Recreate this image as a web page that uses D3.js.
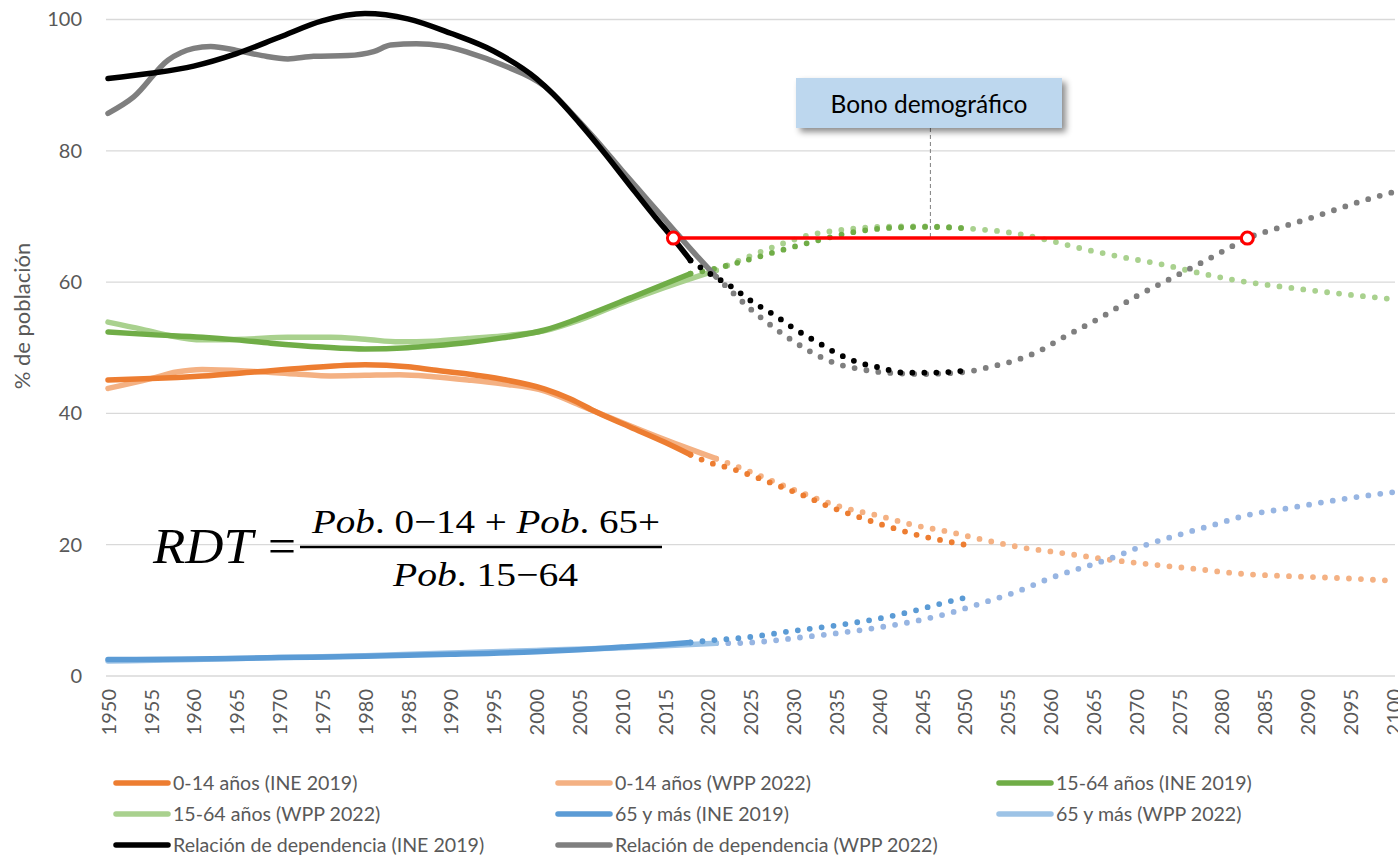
<!DOCTYPE html>
<html>
<head>
<meta charset="utf-8">
<script src="https://cdn.jsdelivr.net/npm/d3@7"></script>
<style>
  html, body { margin: 0; padding: 0; background: #fff; }
  svg { display: block; }
  .sans { font-family: Lato, "Open Sans", sans-serif; }
  .serif { font-family: "Liberation Serif", "DejaVu Serif", serif; }
</style>
</head>
<body>
<svg id="chart" width="1398" height="857"></svg>
<script>
// ---------- data ----------
const xTickYears = [1950,1955,1960,1965,1970,1975,1980,1985,1990,1995,2000,2005,2010,2015,2020,2025,2030,2035,2040,2045,2050,2055,2060,2065,2070,2075,2080,2085,2090,2095,2100];
const yTicks = [0, 20, 40, 60, 80, 100];

const ine014 = [[1950,45.1],[1955,45.3],[1961,45.7],[1967,46.3],[1973,46.9],[1980,47.4],[1985,47.1],[1988,46.6],[1992,46.0],[1996,45.2],[2001,43.7],[2004,42.2],[2007,40.2],[2011,37.9],[2015,35.6],[2018,33.7],[2020,32.6],[2023,31.5],[2026,30.1],[2029,28.6],[2031,27.6],[2034,25.9],[2037,24.5],[2040,23.2],[2042,22.4],[2045,21.3],[2048,20.5],[2050,20.0]];
const wpp014 = [[1950,43.8],[1955,45.3],[1958,46.3],[1961,46.7],[1967,46.4],[1972,46.0],[1976,45.7],[1980,45.8],[1984,45.9],[1988,45.6],[1992,45.1],[1996,44.5],[2001,43.4],[2005,41.3],[2010,38.6],[2015,36.0],[2021,33.1],[2025,31.1],[2030,28.4],[2036,25.6],[2040,24.4],[2044,23.0],[2048,22.0],[2052,20.8],[2057,19.5],[2061,18.8],[2067,17.7],[2071,17.1],[2077,16.3],[2082,15.6],[2088,15.2],[2094,14.9],[2100,14.5]];
const ine1564 = [[1950,52.4],[1955,52.0],[1961,51.6],[1965,51.2],[1969,50.7],[1975,50.1],[1980,49.8],[1985,50.0],[1988,50.3],[1992,50.8],[1996,51.5],[2001,52.7],[2004,54.0],[2006,55.0],[2011,57.6],[2015,59.7],[2018,61.3],[2021,62.1],[2025,63.5],[2029,65.0],[2033,66.4],[2037,67.6],[2042,68.3],[2046,68.4],[2050,68.2]];
const wpp1564 = [[1950,53.9],[1954,52.8],[1957,51.9],[1961,51.2],[1966,51.3],[1971,51.6],[1976,51.6],[1980,51.3],[1984,50.9],[1988,51.0],[1992,51.4],[1996,51.8],[2001,52.6],[2005,54.2],[2010,56.8],[2015,59.2],[2021,61.8],[2025,64.0],[2028,65.5],[2032,67.2],[2036,68.0],[2040,68.4],[2045,68.5],[2050,68.2],[2056,67.4],[2060,66.3],[2064,65.0],[2068,63.9],[2073,62.7],[2077,61.5],[2082,60.2],[2087,59.3],[2092,58.5],[2100,57.4]];
const ine65 = [[1950,2.5],[1960,2.6],[1970,2.8],[1980,3.0],[1990,3.3],[2000,3.7],[2005,4.0],[2010,4.4],[2015,4.8],[2018,5.1],[2021,5.5],[2024,5.8],[2027,6.3],[2029,6.7],[2032,7.2],[2035,7.7],[2038,8.3],[2041,9.0],[2044,9.9],[2046,10.6],[2049,11.6],[2050,11.9]];
const wpp65 = [[1950,2.3],[1960,2.5],[1970,2.8],[1980,3.1],[1990,3.5],[2000,3.9],[2010,4.3],[2015,4.6],[2021,5.0],[2023,5.0],[2027,5.3],[2031,5.9],[2035,6.5],[2040,7.4],[2044,8.3],[2048,9.5],[2052,11.1],[2056,12.8],[2060,14.9],[2067,17.9],[2071,19.9],[2075,21.5],[2079,23.0],[2083,24.5],[2088,25.6],[2092,26.5],[2096,27.3],[2100,28.0]];
const ineRdt = [[1950,91.0],[1955,91.8],[1960,92.9],[1965,94.8],[1970,97.3],[1975,99.8],[1980,100.9],[1985,100.1],[1990,97.9],[1995,95.2],[2000,91.0],[2002,88.6],[2005,84.3],[2008,79.6],[2011,74.6],[2014,69.7],[2016,66.6],[2018,63.3],[2020,61.5],[2023,59.1],[2025,57.2],[2028,54.8],[2030,53.0],[2033,50.7],[2035,49.2],[2038,47.6],[2040,47.0],[2043,46.2],[2046,46.2],[2050,46.5]];
const wppRdt = [[1950,85.7],[1953,88.2],[1957,93.8],[1960,95.6],[1962,95.9],[1965,95.3],[1968,94.5],[1971,94.0],[1974,94.4],[1978,94.5],[1981,95.1],[1983,96.1],[1986,96.3],[1989,96.0],[1992,95.0],[1996,93.1],[2001,89.8],[2004,85.9],[2007,81.6],[2010,77.0],[2013,72.5],[2016,68.0],[2019,63.6],[2021,60.8],[2023,58.3],[2025,55.9],[2027,53.8],[2030,51.0],[2032,49.4],[2035,47.6],[2038,46.7],[2040,46.3],[2045,46.0],[2050,46.3],[2053,47.1],[2056,48.1],[2059,49.7],[2061,51.2],[2066,54.7],[2070,57.8],[2074,60.5],[2078,63.2],[2081,65.3],[2083,66.7],[2086,68.0],[2090,69.6],[2093,70.9],[2096,72.2],[2100,73.7]];

const seriesNames = ["0-14 años (INE 2019)","0-14 años (WPP 2022)","15-64 años (INE 2019)","15-64 años (WPP 2022)","65 y más (INE 2019)","65 y más (WPP 2022)","Relación de dependencia (INE 2019)","Relación de dependencia (WPP 2022)"];
const seriesData = [ine014, wpp014, ine1564, wpp1564, ine65, wpp65, ineRdt, wppRdt];
const seriesLastObserved = [2018, 2021, 2018, 2021, 2018, 2021, 2018, 2021];
const seriesColors = ["#ED7D31","#F4B183","#70AD47","#A9D18E","#5B9BD5","#9DC3E6","#000000","#7F7F7F"];
const seriesDotColors = ["#ED7D31","#F4B183","#70AD47","#A9D18E","#5B9BD5","#97B5E2","#000000","#7F7F7F"];
// draw order (back to front)
const drawOrder = [1, 0, 3, 2, 5, 4, 7, 6];

const bonusStart = 2016, bonusEnd = 2083, bonusLevel = 66.7;
const annotationText = "Bono demográfico";
const axisTitle = "% de población";

// ---------- scales ----------
const svg = d3.select("#chart");
const x = d3.scaleLinear().domain([1950, 2100]).range([108, 1393]);
const y = d3.scaleLinear().domain([0, 100]).range([676, 19.5]);
const gridLeft = 106, gridRight = 1395;

// gridlines
svg.append("g").selectAll("line").data(yTicks).join("line")
  .attr("x1", gridLeft).attr("x2", gridRight)
  .attr("y1", d => y(d)).attr("y2", d => y(d))
  .attr("stroke", "#D9D9D9").attr("stroke-width", 1.3);

// y axis
const yAxis = svg.append("g").attr("transform", `translate(${gridLeft},0)`)
  .call(d3.axisLeft(y).tickValues(yTicks).tickSize(0).tickPadding(24));
yAxis.select(".domain").remove();
yAxis.selectAll("text").attr("class", "sans").attr("fill", "#595959").style("font-size", "20px");

// x axis
const xAxis = svg.append("g").attr("transform", `translate(0,${y(0)})`)
  .call(d3.axisBottom(x).tickValues(xTickYears).tickSize(0).tickFormat(d3.format("d")));
xAxis.select(".domain").remove();
xAxis.selectAll("text")
  .attr("class", "sans")
  .attr("fill", "#595959").style("font-size", "20px")
  .attr("transform", "rotate(-90)")
  .attr("x", -13).attr("y", 0).attr("dy", "0.36em")
  .style("text-anchor", "end");

// y title
svg.append("text").attr("class", "sans")
  .attr("transform", `translate(30,316) rotate(-90)`)
  .attr("text-anchor", "middle")
  .attr("fill", "#595959").style("font-size", "22px")
  .text(axisTitle);

// ---------- lines ----------
const line = d3.line().x(d => x(d[0])).y(d => y(d[1])).curve(d3.curveMonotoneX);
const gLines = svg.append("g");
drawOrder.forEach(i => {
  const data = seriesData[i], cut = seriesLastObserved[i];
  const solid = data.filter(d => d[0] <= cut);
  const dotted = data.filter(d => d[0] >= cut);
  gLines.append("path").attr("d", line(dotted))
    .attr("fill", "none").attr("stroke", seriesDotColors[i])
    .attr("stroke-width", 5.8).attr("stroke-linecap", "round")
    .attr("stroke-dasharray", "0 12");
  gLines.append("path").attr("d", line(solid))
    .attr("fill", "none").attr("stroke", seriesColors[i])
    .attr("stroke-width", 5.5).attr("stroke-linecap", "round").attr("stroke-linejoin", "round");
});

// ---------- bono demográfico ----------
const defs = svg.append("defs");
const f = defs.append("filter").attr("id", "shadow").attr("x", "-20%").attr("y", "-30%").attr("width", "140%").attr("height", "180%");
f.append("feDropShadow").attr("dx", 4).attr("dy", 4).attr("stdDeviation", 3).attr("flood-color", "#000").attr("flood-opacity", 0.45);

const boxMid = x(2046);
svg.append("line")
  .attr("x1", boxMid).attr("x2", boxMid).attr("y1", 128).attr("y2", y(bonusLevel))
  .attr("stroke", "#7F7F7F").attr("stroke-width", 1).attr("stroke-dasharray", "4 3");

svg.append("line")
  .attr("x1", x(bonusStart)).attr("x2", x(bonusEnd))
  .attr("y1", y(bonusLevel)).attr("y2", y(bonusLevel))
  .attr("stroke", "#FF0000").attr("stroke-width", 3.5);
svg.append("g").selectAll("circle").data([bonusStart, bonusEnd]).join("circle")
  .attr("cx", d => x(d)).attr("cy", y(bonusLevel)).attr("r", 6)
  .attr("fill", "#fff").attr("stroke", "#FF0000").attr("stroke-width", 3);

svg.append("rect")
  .attr("x", 796).attr("y", 78).attr("width", 266).attr("height", 50)
  .attr("fill", "#BDD7EE").attr("filter", "url(#shadow)");
svg.append("text").attr("class", "sans")
  .attr("x", 929).attr("y", 104).attr("dy", "0.35em")
  .attr("text-anchor", "middle").attr("fill", "#000").style("font-size", "24.5px")
  .text(annotationText);

// ---------- formula ----------
const fg = svg.append("g").attr("fill", "#000");
fg.append("text").attr("class", "serif").attr("x", 153).attr("y", 563).style("font-size", "50px").style("font-style", "italic")
  .attr("textLength", 100).attr("lengthAdjust", "spacingAndGlyphs").text("RDT");
fg.append("text").attr("class", "serif").attr("x", 268).attr("y", 563).style("font-size", "50px")
  .attr("textLength", 28).attr("lengthAdjust", "spacingAndGlyphs").text("=");
fg.append("line").attr("x1", 300).attr("x2", 662).attr("y1", 547).attr("y2", 547)
  .attr("stroke", "#000").attr("stroke-width", 2.6);
const num = fg.append("text").attr("class", "serif").attr("x", 312).attr("y", 533).style("font-size", "34px")
  .attr("textLength", 348).attr("lengthAdjust", "spacingAndGlyphs");
num.append("tspan").style("font-style", "italic").text("Pob");
num.append("tspan").text(". 0−14 + ");
num.append("tspan").style("font-style", "italic").text("Pob");
num.append("tspan").text(". 65+");
const den = fg.append("text").attr("class", "serif").attr("x", 393).attr("y", 586).style("font-size", "34px")
  .attr("textLength", 185).attr("lengthAdjust", "spacingAndGlyphs");
den.append("tspan").style("font-style", "italic").text("Pob");
den.append("tspan").text(". 15−64");

// ---------- legend ----------
const legCols = [114, 556, 997];
const legRows = [783, 814, 845];
const leg = svg.append("g");
seriesNames.forEach((name, i) => {
  const cx = legCols[i % 3], cy = legRows[Math.floor(i / 3)];
  leg.append("line").attr("x1", cx + 2).attr("x2", cx + 54).attr("y1", cy).attr("y2", cy)
    .attr("stroke", seriesColors[i]).attr("stroke-width", 5.5).attr("stroke-linecap", "round");
  leg.append("text").attr("class", "sans").attr("x", cx + 59).attr("y", cy).attr("dy", "0.35em")
    .attr("fill", "#595959").style("font-size", "19.6px").text(name);
});
</script>
</body>
</html>
